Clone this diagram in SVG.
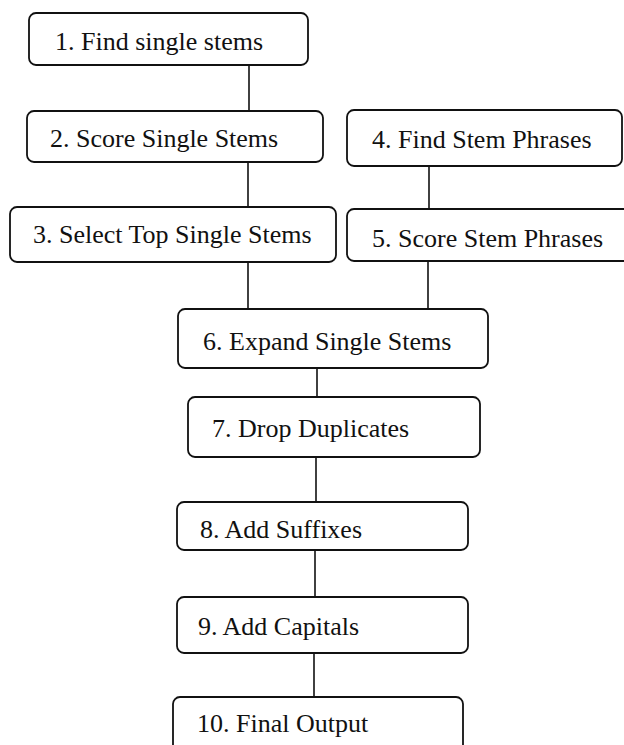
<svg xmlns="http://www.w3.org/2000/svg" width="624" height="745" viewBox="0 0 624 745">
<style>
rect{fill:#fff;stroke:#111;stroke-width:1.8}
text{font-family:"Liberation Serif","Times New Roman",serif;font-size:26px;fill:#111}
#connectors line{stroke:#111;stroke-width:1.6}
</style>
<rect x="0" y="0" width="624" height="745" style="stroke:none"/>
<g id="connectors">
<line x1="249" y1="65" x2="249" y2="111"/>
<line x1="248" y1="162" x2="248" y2="207"/>
<line x1="429" y1="166" x2="429" y2="209"/>
<line x1="248" y1="262" x2="248" y2="309"/>
<line x1="428" y1="261" x2="428" y2="309"/>
<line x1="317" y1="368" x2="317" y2="397"/>
<line x1="316" y1="457" x2="316" y2="502"/>
<line x1="315" y1="550" x2="315" y2="597"/>
<line x1="314" y1="653" x2="314" y2="697"/>
</g>
<g id="n1"><rect x="29" y="13" width="279" height="52" rx="7"/><text x="55" y="50">1. Find single stems</text></g>
<g id="n2"><rect x="27" y="111" width="296" height="51" rx="7"/><text x="50" y="147">2. Score Single Stems</text></g>
<g id="n3"><rect x="10" y="207" width="326" height="55" rx="7"/><text x="33" y="243">3. Select Top Single Stems</text></g>
<g id="n4"><rect x="347" y="110" width="275" height="56" rx="7"/><text x="372" y="148">4. Find Stem Phrases</text></g>
<g id="n5"><rect x="347" y="209" width="290" height="52" rx="7"/><text x="372" y="247">5. Score Stem Phrases</text></g>
<g id="n6"><rect x="178" y="309" width="310" height="59" rx="7"/><text x="203" y="350">6. Expand Single Stems</text></g>
<g id="n7"><rect x="188" y="397" width="292" height="60" rx="7"/><text x="212" y="437">7. Drop Duplicates</text></g>
<g id="n8"><rect x="177" y="502" width="291" height="48" rx="7"/><text x="200" y="538">8. Add Suffixes</text></g>
<g id="n9"><rect x="177" y="597" width="291" height="56" rx="7"/><text x="198" y="635">9. Add Capitals</text></g>
<g id="n10"><rect x="173" y="697" width="290" height="60" rx="7"/><text x="197" y="732">10. Final Output</text></g>
</svg>
